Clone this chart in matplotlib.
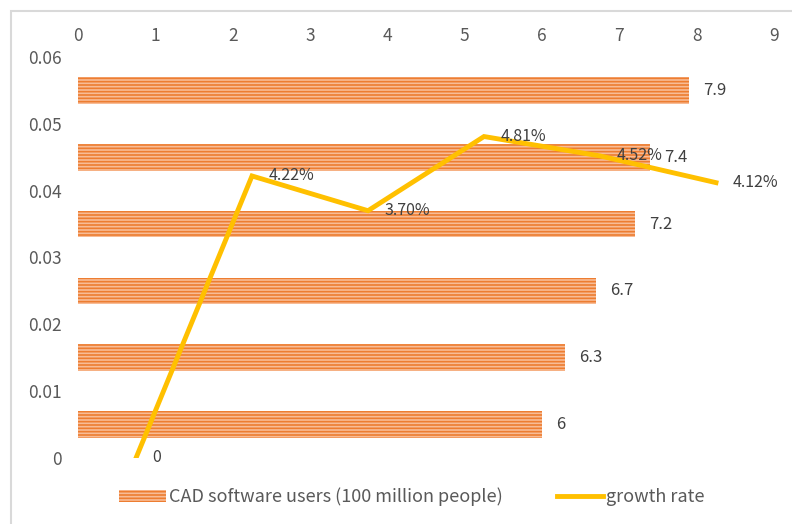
import matplotlib
matplotlib.use("Agg")
import matplotlib.pyplot as plt
from matplotlib.patches import Rectangle
from matplotlib.lines import Line2D
import numpy as np

plt.rcParams["font.family"] = ["Noto Sans CJK SC", "DejaVu Sans"]
plt.rcParams["hatch.linewidth"] = 1.2

# 数据
users = [6, 6.3, 6.7, 7.2, 7.4, 7.9]              # 亿人
growth = [0, 0.0422, 0.0370, 0.0481, 0.0452, 0.0412]
growth_labels = ["0", "4.22%", "3.70%", "4.81%", "4.52%", "4.12%"]
user_ticks = list(range(0, 10))
rate_ticks = [0, 0.01, 0.02, 0.03, 0.04, 0.05, 0.06]
rate_ticklabels = ["0", "0.01", "0.02", "0.03", "0.04", "0.05", "0.06"]

BAR_FACE = "#F8BC96"
BAR_HATCH = "#ED7D31"
LINE_C = "#FFC000"
TXT = "#404040"
TICK_TXT = "#595959"

fig = plt.figure(figsize=(7.92, 5.24), dpi=100)
# 外框
fig.patches.append(Rectangle((11 / 792, -0.1), 1.1, 1 - 11 / 524 + 0.1,
                             transform=fig.transFigure, fill=False,
                             edgecolor="#D9D9D9", lw=1.5))

ax = fig.add_axes([78 / 792, 66 / 524, 696 / 792, 401 / 524])

# 柱子: 每一类占 0.01 的高度
ypos = [(i + 0.5) * 0.01 for i in range(len(users))]
ax.barh(ypos, users, height=0.004, color=BAR_FACE, edgecolor=BAR_HATCH,
        hatch="-----", lw=0, zorder=2)
for y, v in zip(ypos, users):
    ax.text(v + 0.18, y, f"{v:g}", ha="left", va="center", fontsize=12,
            color=TXT)

ax.set_xlim(0, 9)
ax.set_ylim(0, 0.06)
ax.set_yticks(rate_ticks)
ax.set_yticklabels(rate_ticklabels)
ax.tick_params(axis="y", length=0, pad=12, labelsize=12.5, labelcolor=TICK_TXT)
for s in ax.spines.values():
    s.set_visible(False)

# 增长率折线, 横向按 6 个类别均分
ax2 = ax.twiny()
xs = np.arange(len(growth)) + 0.5
ax2.plot(xs, growth, color=LINE_C, lw=3.5, solid_joinstyle="miter", zorder=3)
for x, g, lab in zip(xs, growth, growth_labels):
    ax2.text(x + 0.14, g, lab, ha="left", va="center", fontsize=11.5,
             color=TXT)
ax2.set_xlim(0, 6)
ax2.set_xticks([])
for s in ax2.spines.values():
    s.set_visible(False)

# twiny 会把原坐标轴的刻度挪到下方, 这里放回顶部
ax.xaxis.tick_top()
ax.set_xticks(user_ticks)
ax.tick_params(axis="x", length=0, pad=8.5, labelsize=12.5, labelcolor=TICK_TXT,
               labelbottom=False, labeltop=True)

handles = [Rectangle((0, 0), 1, 1, facecolor=BAR_FACE, edgecolor=BAR_HATCH,
                     hatch="-----", lw=0),
           Line2D([], [], color=LINE_C, lw=3.5)]
fig.legend(handles, ["CAD software users (100 million people)", "growth rate"],
           loc="center", bbox_to_anchor=(0.52, 1 - 497 / 524), ncol=2,
           frameon=False, fontsize=13, labelcolor=TICK_TXT,
           handlelength=2.6, handleheight=0.6, handletextpad=0.15,
           columnspacing=3.0)

fig.savefig("out.png", dpi=100)
